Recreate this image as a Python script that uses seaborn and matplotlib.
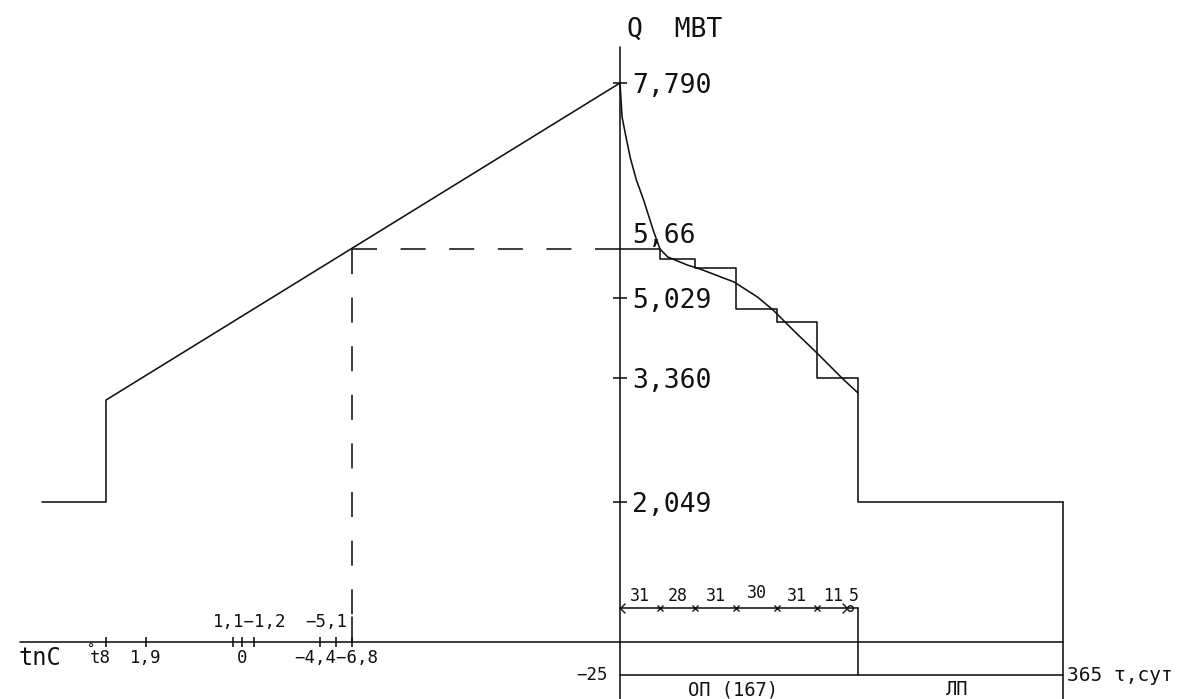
import numpy as np
import matplotlib
matplotlib.use("Agg")
import matplotlib.pyplot as plt
from matplotlib.path import Path
import seaborn as sns

# ---------------- data ----------------
q_tick_values = [7.790, 5.66, 5.029, 3.360, 2.049]
q_tick_labels = ["7,790", "5,66", "5,029", "3,360", "2,049"]
q_axis_title = "Q  MBT"

month_lengths = [31, 28, 31, 30, 31, 11, 5]
month_labels = ["31", "28", "31", "30", "31", "11", "5"]
step_levels = [5.66, 5.531, 5.41, 4.80, 4.528, 3.36, 3.36]
heating_days = 167
year_days = 365
summer_load = 2.049

curve_days = [0, 0.8, 1.6, 4.8, 8.0, 12.7, 18.3, 26.2, 31.0, 37.2, 52.8,
              62.9, 88.5, 105.7, 117.1, 134.0, 151.0, 159.3, 167.0]
curve_q = [7.790, 7.572, 7.354, 7.084, 6.828, 6.545, 6.289, 5.878, 5.660,
           5.557, 5.454, 5.402, 5.235, 5.042, 4.779, 4.320, 3.881, 3.360, 3.201]

t_indoor = 18.0
t_heat_start = 8.0
t_design = -25.0
q_heat_start = 3.127
q_design = 7.790
t_mark = -6.8
q_mark = 5.66
t_tick_values = [8, 1.9, 1.1, 0, -1.2, -4.4, -5.1, -6.8]

# ---------------- schematic scale anchors (layout) ----------------
W, H = 1184, 699
day_anchor_val = [0, 31, 59, 90, 120, 151, 162, 167, 365]
day_anchor_px = [620, 660, 695, 736, 777, 817, 850, 858, 1063]
t_anchor_val = [18, 8, 1.9, 1.1, 0, -1.2, -4.4, -5.1, -6.8, -25]
t_anchor_px = [42, 106, 146, 233, 242, 254, 320, 336, 352, 620]
q_anchor_val = [0, 2.049, 3.36, 5.029, 5.66, 7.79]
q_anchor_px = [642, 502, 378, 298, 249, 83]
ROW_ARROW = 1 - 608 / H
ROW_TABLE = 1 - 675 / H
t_axis_start = 21.5
q_axis_top = 8.25
PT = 0.72  # points per pixel


def piecewise(xv, yv):
    xv = np.asarray(xv, float)
    yv = np.asarray(yv, float)
    o = np.argsort(xv)
    xv, yv = xv[o], yv[o]
    s0 = (yv[1] - yv[0]) / (xv[1] - xv[0])
    s1 = (yv[-1] - yv[-2]) / (xv[-1] - xv[-2])

    def f(v):
        v = np.asarray(v, float)
        out = np.interp(v, xv, yv)
        out = np.where(v < xv[0], yv[0] + (v - xv[0]) * s0, out)
        out = np.where(v > xv[-1], yv[-1] + (v - xv[-1]) * s1, out)
        return out
    return f


day_fwd = piecewise(day_anchor_val, day_anchor_px)
day_inv = piecewise(day_anchor_px, day_anchor_val)
# temperature drawn right-to-left: forward uses mirrored pixel positions
t_mirror = [W - p for p in t_anchor_px]
t_fwd = piecewise(t_anchor_val, t_mirror)
t_inv = piecewise(t_mirror, t_anchor_val)
q_up = [H - p for p in q_anchor_px]
q_fwd = piecewise(q_anchor_val, q_up)
q_inv = piecewise(q_up, q_anchor_val)

# ---------------- style ----------------
sns.set_theme(style="white")
plt.rcParams["font.family"] = ["DejaVu Sans Mono", "DejaVu Sans"]
plt.rcParams["lines.scale_dashes"] = False
INK = "#111111"
LW = 1.15

fig = plt.figure(figsize=(W / 100, H / 100), dpi=100)
fig.patch.set_facecolor("white")
ax_d = fig.add_axes([0, 0, 1, 1])
ax_t = fig.add_axes([0, 0, 1, 1])
for a in (ax_d, ax_t):
    a.set_facecolor("none")

# ---------------- right part (days) ----------------
bounds = list(np.cumsum([0] + month_lengths))
step_x = bounds + [year_days]
step_y = step_levels + [summer_load, summer_load]
sns.lineplot(x=step_x, y=step_y, ax=ax_d, color=INK, lw=LW,
             drawstyle="steps-post", sort=False, estimator=None)
sns.lineplot(x=curve_days, y=curve_q, ax=ax_d, color=INK, lw=LW,
             sort=False, estimator=None)

# ---------------- left part (temperature) ----------------
left_t = [t_indoor, t_heat_start, t_heat_start, t_design]
left_q = [summer_load, summer_load, q_heat_start, q_design]
sns.lineplot(x=left_t, y=left_q, ax=ax_t, color=INK, lw=LW,
             sort=False, estimator=None)
ax_t.plot([t_mark, t_design], [q_mark, q_mark], color=INK, lw=LW,
          ls=(0, (18, 17)))
ax_t.plot([t_mark, t_mark], [q_mark, 0], color=INK, lw=LW,
          ls=(0, (18, 17)))

q_bottom = float(q_inv(0))

# axes lines
ax_d.plot([0, 0], [q_axis_top, q_bottom], color=INK, lw=LW)
ax_d.plot([year_days, year_days], [summer_load, q_bottom], color=INK, lw=LW)
ax_d.plot([0, year_days], [0, 0], color=INK, lw=LW)
ax_t.plot([t_axis_start, t_design], [0, 0], color=INK, lw=LW)

# Q ticks
for q in q_tick_values:
    if q != q_mark:
        ax_d.plot([0], [q], marker="_", ms=10, mew=LW, color=INK)
# temperature ticks
ax_t.plot(t_tick_values, [0] * len(t_tick_values), ls="none", marker="|",
          ms=7, mew=LW, color=INK)
ax_t.plot([t_mark, t_mark], [0, 0.37], color=INK, lw=LW)

# table
xt = ax_d.get_xaxis_transform()
ax_d.plot([0, year_days], [ROW_TABLE, ROW_TABLE], transform=xt, color=INK, lw=LW)
ax_d.plot([heating_days, heating_days], [ROW_ARROW, ROW_TABLE], transform=xt,
          color=INK, lw=LW)
ax_d.plot([0, heating_days], [ROW_ARROW, ROW_ARROW], transform=xt, color=INK, lw=LW)
ax_d.plot(bounds[1:6], [ROW_ARROW] * 5, transform=xt, ls="none", marker="x",
          ms=4, mew=1.0, color=INK)
chev_l = Path([(1, 1), (0, 0), (1, -1)], [Path.MOVETO, Path.LINETO, Path.LINETO])
chev_r = Path([(-1, 1), (0, 0), (-1, -1)], [Path.MOVETO, Path.LINETO, Path.LINETO])
ax_d.plot([0], [ROW_ARROW], transform=xt, marker=chev_l, ms=7, mew=1.0,
          mfc="none", color=INK)
ax_d.plot([bounds[6] - 1.0], [ROW_ARROW], transform=xt, marker=chev_r, ms=7,
          mew=1.0, mfc="none", color=INK)
ax_d.plot([bounds[6] + 0.3], [ROW_ARROW], transform=xt, marker="o", ms=4,
          mew=1.0, mfc="none", color=INK)

# ---------------- scales & limits ----------------
ax_d.set_xscale("function", functions=(day_fwd, day_inv))
ax_t.set_xscale("function", functions=(t_fwd, t_inv))
ax_d.set_yscale("function", functions=(q_fwd, q_inv))
ax_t.set_yscale("function", functions=(q_fwd, q_inv))
ax_d.set_xlim(float(day_inv(0)), float(day_inv(W)))
ax_t.set_xlim(float(t_inv(0)), float(t_inv(W)))
ax_t.invert_xaxis()
ax_d.set_ylim(q_bottom, float(q_inv(H)))
ax_t.set_ylim(q_bottom, float(q_inv(H)))
for a in (ax_d, ax_t):
    a.axis("off")


def txt(ax, s, xy, dx, dy, size, ha="left", va="baseline", xycoords="data"):
    ax.annotate(s, xy=xy, xycoords=xycoords, xytext=(dx * PT, dy * PT),
                textcoords="offset points", ha=ha, va=va, fontsize=size,
                color=INK)


# Q labels
for q, lab in zip(q_tick_values, q_tick_labels):
    if q == q_mark:
        txt(ax_d, lab, (0, q), 12, 6, 19)
    else:
        txt(ax_d, lab, (0, q), 12, -10, 19)
txt(ax_d, q_axis_title, (0, q_design), 7, 46, 19)

# temperature labels
txt(ax_t, "tnC", (t_axis_start, 0), -1, -23, 17)
txt(ax_t, "t8", (t_heat_start, 0), -6, -21, 12.5, ha="center")
txt(ax_t, "°", (t_heat_start, 0), -19, -12, 10, ha="left")
txt(ax_t, "1,9", (1.9, 0), 0, -21, 12.5, ha="center")
txt(ax_t, "0", (0, 0), 0, -21, 12.5, ha="center")
txt(ax_t, "−4,4−6,8", (-5.1, 0), 0, -21, 12.5, ha="center")
txt(ax_t, "1,1−1,2", (0, 0), 8, 15, 12.5, ha="center")
txt(ax_t, "−5,1", (-5.1, 0), -10, 15, 12.5, ha="center")

# month labels
for i, lab in enumerate(month_labels):
    mid = (bounds[i] + bounds[i + 1]) / 2
    dy = 10 if lab == "30" else 7
    txt(ax_d, lab, (mid, ROW_ARROW), 0, dy, 12, ha="center",
        xycoords=("data", "axes fraction"))

txt(ax_d, "−25", (0, ROW_TABLE), -12, -5, 12.5, ha="right",
    xycoords=("data", "axes fraction"))
txt(ax_d, "ОП (167)", (heating_days / 2, ROW_TABLE), 6, -20, 13.5, ha="center",
    xycoords=("data", "axes fraction"))
txt(ax_d, "ЛП", ((heating_days + year_days) / 2, ROW_TABLE), -3, -20, 13.5,
    ha="center", xycoords=("data", "axes fraction"))
txt(ax_d, "365 τ,сут", (year_days, ROW_TABLE), 4, -6, 14, ha="left",
    xycoords=("data", "axes fraction"))

fig.savefig("out.png", dpi=100)
